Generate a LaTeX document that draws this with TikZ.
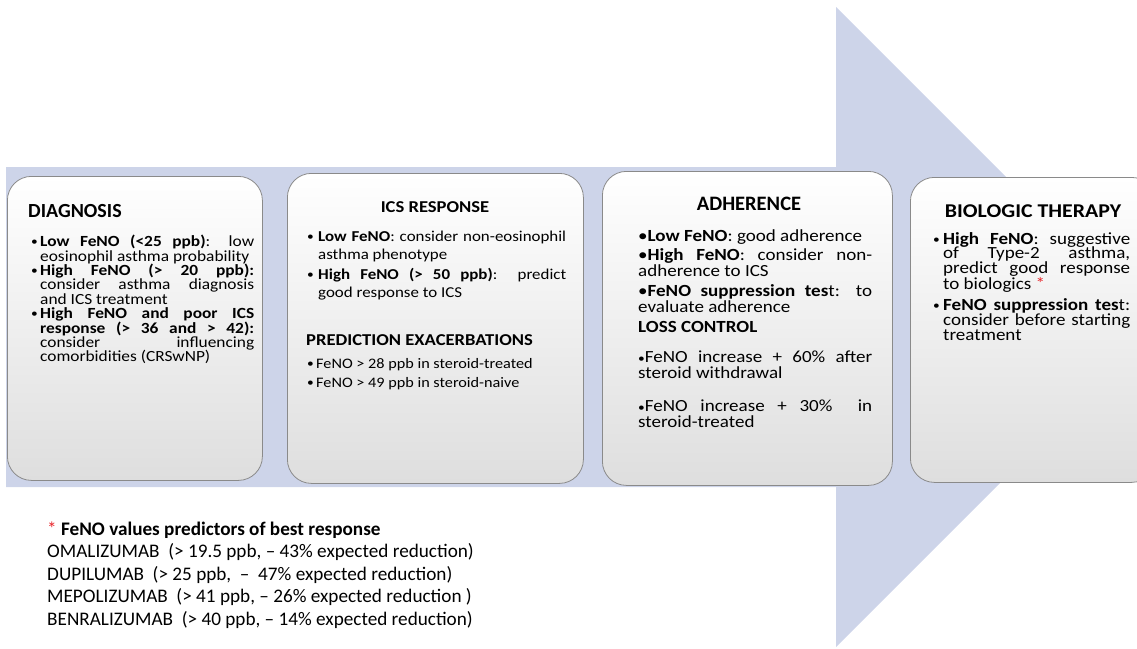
\documentclass[tikz,border=0pt]{standalone}
\usepackage{fontspec}
\setmainfont{Carlito}[FakeStretch=1.12]
\newfontfamily\plainfont{Carlito}
\usepackage{xcolor}
\usetikzlibrary{positioning}
\definecolor{band}{HTML}{CDD4E9}
\definecolor{cardline}{HTML}{8A8A8A}
\definecolor{cardbot}{HTML}{DEDEDE}
\definecolor{star}{HTML}{E8262B}
\lineskiplimit=-30pt \lineskip=0pt
\hfuzz=30pt \hbadness=10000 \tolerance=10000

\newcommand{\fsz}[2]{\fontsize{#1}{#2}\selectfont}
\newcommand{\bdot}{{\fsz{12}{12}\raisebox{0.8pt}{\textbullet}}}
\newcommand{\hang}[2]{\par\hangindent=#1\hangafter=1\noindent\makebox[#1][l]{\hspace{1pt}\bdot}#2\par}

\begin{document}
\begin{tikzpicture}[x=1pt,y=-1pt,
  card/.style={draw=cardline, line width=0.8pt, rounded corners=24pt,
    top color=white, bottom color=cardbot, anchor=north west, inner sep=0pt},
  head/.style={anchor=base, inner sep=0pt, font=\bfseries\fsz{#1}{#1}},
  plainhead/.style={anchor=base, inner sep=0pt, font=\plainfont\bfseries\fsz{#1}{#1}},
  body/.style={anchor=north west, inner sep=0pt, align=justify, text width=#1},
]
  \useasboundingbox (0,0) rectangle (1137,648);
  \clip (0,0) rectangle (1137,648);
  % big arrow behind the cards
  \fill[band] (6,167) -- (836,167) -- (836,7) -- (1156,327) -- (836,647)
    -- (836,487) -- (6,487) -- cycle;

  \node[card, minimum width=255pt, minimum height=304pt] (diag) at (7,176) {};
  \node[card, minimum width=296pt, minimum height=310pt] (ics) at (287,173) {};
  \node[card, minimum width=290pt, minimum height=314pt] (adh) at (602,171) {};
  \node[card, minimum width=245pt, minimum height=305pt] (bio) at (910,177) {};

  % titles
  \node[plainhead=20, anchor=base west] (diagT) at (28,217) {DIAGNOSIS};
  \node[head=16.6] (icsT) at (435,212) {ICS RESPONSE};
  \node[plainhead=20.5] (adhT) at (749,210) {ADHERENCE};
  \node[head=19.5] (bioT) at (1033,217) {BIOLOGIC THERAPY};

  \node[body=224pt, font=\fsz{15.5}{14.4}] (diagB) at (30,232) {%
    \hang{10pt}{\rule{0pt}{14pt}\textbf{Low FeNO (<25 ppb)}: low\linebreak eosinophil asthma probability}
    \hang{10pt}{\textbf{High FeNO (> 20 ppb):}\linebreak consider asthma diagnosis\linebreak and ICS treatment}
    \hang{10pt}{\textbf{High FeNO and poor ICS\linebreak response (> 36 and > 42):}\linebreak consider influencing\linebreak comorbidities (CRSwNP)}};

  \node[body=260pt, font=\fsz{15.1}{18}] (icsB) at (306,223) {%
    \hang{12pt}{\rule{0pt}{14pt}\textbf{Low FeNO}: consider non-eosinophil\linebreak asthma phenotype}
    \vspace{2pt}
    \hang{12pt}{\textbf{High FeNO (> 50 ppb)}:\ \ predict\linebreak good response to ICS}
    \vspace{30pt}
    \noindent{\fsz{16.6}{18}\bfseries PREDICTION EXACERBATIONS\par}
    \vspace{4pt}
    {\fsz{14.5}{19}\hang{10pt}{FeNO > 28 ppb in steroid-treated}\hang{10pt}{FeNO > 49 ppb in steroid-naive}}};

  \node[body=234pt, font=\fsz{17}{16}] (adhB) at (638,227) {%
    \noindent\rule{0pt}{14pt}\textbullet\textbf{Low FeNO}: good adherence\par
    \vspace{3pt}
    \noindent\textbullet\textbf{High FeNO}: consider non-\linebreak adherence to ICS\par
    \vspace{4pt}
    \noindent\textbullet\textbf{FeNO suppression tes}t: to\linebreak evaluate adherence\par
    \vspace{4pt}
    \noindent\textbf{LOSS CONTROL}\par
    \vspace{14pt}
    \noindent{\fsz{12}{16}\textbullet}FeNO increase + 60\% after\linebreak steroid withdrawal\par
    \vspace{17pt}
    \noindent{\fsz{12}{16}\textbullet}FeNO increase + 30\%\ \ in\linebreak steroid-treated\par};

  \node[body=198pt, font=\fsz{17}{14.8}] (bioB) at (932,229) {%
    \hang{11pt}{\rule{0pt}{14pt}\textbf{High FeNO}: suggestive\linebreak of Type-2 asthma,\linebreak predict good response\linebreak to biologics \textcolor{star}{*}}
    \vspace{5pt}
    \hang{11pt}{\textbf{FeNO suppression tes}t:\linebreak consider before starting\linebreak treatment}};

  % note under the arrow
  \node[anchor=north west, inner sep=0pt, align=left, font=\plainfont\fsz{19.2}{22.5}] (note) at (47,521) {%
    \rule{0pt}{14pt}\textcolor{star}{*} \textbf{FeNO values predictors of best response}\\
    OMALIZUMAB\ \ (> 19.5 ppb, \textendash{} 43\% expected reduction)\\
    DUPILUMAB\ \ (> 25 ppb,\ \ \textendash\ \ 47\% expected reduction)\\
    MEPOLIZUMAB\ \ (> 41 ppb, \textendash{} 26\% expected reduction\ )\\
    BENRALIZUMAB\ \ (> 40 ppb, \textendash{} 14\% expected reduction)};
\end{tikzpicture}
\end{document}
